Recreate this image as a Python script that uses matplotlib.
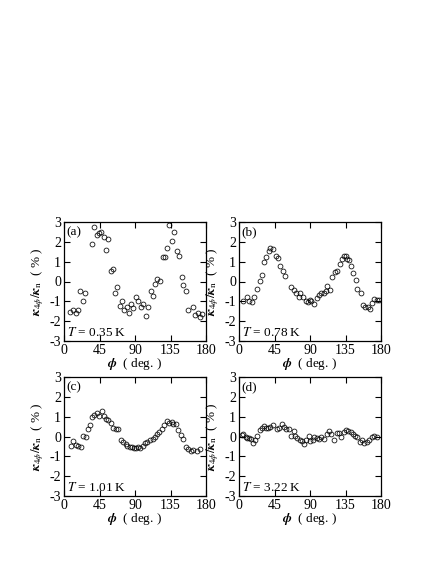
import matplotlib
matplotlib.use("Agg")
import matplotlib.pyplot as plt

plt.rcParams['font.family'] = ['Liberation Serif', 'DejaVu Serif']
plt.rcParams['mathtext.fontset'] = 'stix'
plt.rcParams['axes.unicode_minus'] = False

# Panel (a) T = 0.35 K
phi_a = [7.6, 11.8, 14.8, 18.2, 20.3, 23.7, 26.6, 35.1, 38.0, 41.4, 44.4, 47.3, 50.7, 53.2, 55.8,
         59.2, 62.5, 65.1, 67.6, 71.0, 74.0, 76.5, 79.4, 82.4, 84.9, 87.9, 91.3, 94.2, 97.2, 100.6,
         103.9, 106.9, 109.9, 113.2, 115.4, 118.3, 121.7, 125.9, 128.0, 131.0, 133.5, 136.9, 139.4,
         142.8, 145.8, 149.2, 151.3, 154.6, 157.6, 163.1, 166.1, 169.4, 172.4, 174.9]
k_a = [-1.55, -1.44, -1.60, -1.44, -0.46, -0.97, -0.60, 1.87, 2.76, 2.34, 2.43, 2.51, 2.26, 1.59, 2.13,
       0.53, 0.63, -0.60, -0.26, -1.22, -0.97, -1.44, -1.27, -1.57, -1.13, -1.35, -0.80, -0.97, -1.27, -1.15,
       -1.74, -1.30, -0.46, -0.73, -0.13, 0.14, 0.04, 1.25, 1.25, 1.67, 2.85, 2.06, 2.48,
       1.55, 1.29, 0.21, -0.18, -0.48, -1.44, -1.27, -1.69, -1.57, -1.77, -1.65]

# Panel (b) T = 0.78 K
phi_b = [5.5, 9.8, 12.8, 16.2, 19.1, 22.6, 26.0, 28.9, 31.1, 34.0, 37.4, 39.6, 42.6, 46.8, 49.8,
         52.3, 55.7, 58.7, 66.4, 69.4, 72.3, 75.7, 77.9, 80.9, 84.3, 87.2, 89.8, 91.9, 94.9, 98.3,
         101.3, 104.3, 107.7, 109.8, 112.0, 114.9, 118.3, 121.7, 124.6, 128.0, 131.0, 133.1, 135.3,
         137.4, 139.6, 141.7, 145.1, 148.1, 150.2, 154.5, 156.6, 159.6, 163.0, 166.0, 168.5, 171.5,
         174.5, 177.0]
k_b = [-0.97, -0.80, -0.97, -1.05, -0.80, -0.38, 0.03, 0.33, 0.97, 1.25, 1.55, 1.67, 1.64, 1.29, 1.21,
       0.78, 0.53, 0.29, -0.26, -0.43, -0.60, -0.80, -0.60, -0.80, -0.97, -1.05, -0.93, -0.97, -1.15, -0.85,
       -0.68, -0.56, -0.60, -0.46, -0.21, -0.43, 0.24, 0.50, 0.53, 0.88, 1.13, 1.29, 1.30,
       1.13, 1.08, 0.78, 0.45, 0.08, -0.40, -0.56, -1.18, -1.30, -1.30, -1.39, -1.07, -0.90,
       -0.93, -0.93]

# Panel (c) T = 1.01 K
phi_c = [8.5, 11.8, 14.8, 18.2, 21.1, 24.5, 27.5, 30.0, 32.9, 35.1, 38.0, 41.4, 44.8, 47.7, 50.7,
         53.2, 56.2, 59.2, 62.5, 65.9, 68.9, 71.8, 75.2, 78.2, 80.3, 83.7, 85.8, 88.7, 91.3, 94.2,
         96.3, 99.7, 102.7, 105.6, 109.0, 112.4, 115.4, 118.3, 120.8, 123.8, 126.8, 130.1, 133.1,
         136.5, 138.6, 142.0, 145.0, 147.9, 151.3, 154.6, 157.6, 160.6, 163.9, 168.2, 172.4]
k_c = [-0.46, -0.24, -0.42, -0.46, -0.51, 0.05, 0.00, 0.36, 0.56, 0.98, 1.10, 1.19, 1.03, 1.27, 1.02,
       0.86, 0.81, 0.68, 0.44, 0.36, 0.36, -0.20, -0.29, -0.37, -0.46, -0.51, -0.54, -0.58, -0.58, -0.54,
       -0.58, -0.46, -0.34, -0.29, -0.20, -0.12, 0.00, 0.14, 0.22, 0.39, 0.56, 0.78, 0.68,
       0.73, 0.61, 0.64, 0.31, 0.10, -0.12, -0.54, -0.63, -0.71, -0.68, -0.71, -0.63]

# Panel (d) T = 3.22 K
phi_d = [3.4, 5.5, 8.5, 10.6, 13.2, 15.3, 18.3, 20.4, 23.4, 26.0, 28.9, 31.1, 34.0, 36.6, 39.6,
         43.0, 48.1, 51.1, 54.5, 57.4, 60.0, 63.0, 66.4, 69.4, 71.5, 73.6, 77.0, 80.0, 83.0, 85.5,
         88.5, 90.6, 93.6, 95.7, 98.3, 101.3, 103.4, 107.7, 111.1, 114.0, 117.0, 120.4, 123.8,
         126.8, 129.8, 133.1, 136.2, 138.7, 141.7, 144.7, 147.2, 150.2, 153.2, 155.7, 158.7,
         161.7, 165.1, 168.5, 171.5, 174.5]
k_d = [0.08, 0.14, 0.00, -0.07, -0.07, -0.12, -0.34, -0.17, 0.05, 0.31, 0.42, 0.51, 0.44, 0.44, 0.47,
       0.56, 0.36, 0.44, 0.61, 0.47, 0.36, 0.36, 0.05, 0.27, 0.05, -0.07, -0.17, -0.24, -0.37, -0.17,
       0.05, -0.24, -0.17, 0.00, -0.07, -0.12, -0.03, -0.12, 0.14, 0.27, 0.14, -0.17, 0.17,
       0.17, 0.00, 0.22, 0.34, 0.27, 0.22, 0.14, 0.05, 0.00, -0.29, -0.20, -0.34,
       -0.29, -0.17, 0.00, 0.05, 0.00]

panel_labels = ['(a)', '(b)', '(c)', '(d)']
temps = ['0.35', '0.78', '1.01', '3.22']
xticks = [0, 45, 90, 135, 180]
yticks = [-3, -2, -1, 0, 1, 2, 3]

W, H = 436, 564
fig = plt.figure(figsize=(W / 100, H / 100), dpi=100)

boxes = [(64, 222), (239, 222), (64, 377), (239, 377)]
bw, bh = 142, 119
datasets = [(phi_a, k_a), (phi_b, k_b), (phi_c, k_c), (phi_d, k_d)]

for i, ((x0, y0), (px, py)) in enumerate(zip(boxes, datasets)):
    ax = fig.add_axes([x0 / W, 1 - (y0 + bh) / H, bw / W, bh / H])
    ax.plot(px, py, 'o', mfc='none', mec='black', mew=0.55, ms=3.5, ls='none')
    ax.set_xlim(0, 180)
    ax.set_ylim(-3, 3)
    ax.set_xticks(xticks)
    ax.set_yticks(yticks)
    ax.tick_params(direction='in', top=True, right=True, length=4, width=0.8,
                   labelsize=10, pad=2)
    for s in ax.spines.values():
        s.set_linewidth(0.9)
    ax.set_xlabel(r'$\boldsymbol{\phi}$  ( deg. )', fontsize=9.5)
    ax.xaxis.set_label_coords(0.5, -0.125)
    ax.set_ylabel(r'$\boldsymbol{\kappa}_{4\phi}/\boldsymbol{\kappa}_{\rm n}$  ( % )', fontsize=9.5)
    ax.yaxis.set_label_coords(-0.125, 0.5)
    ax.text(0.02, 0.965, panel_labels[i], transform=ax.transAxes, ha='left', va='top', fontsize=9.5)
    ax.text(0.02, 0.045, r'$T$ = ' + temps[i] + ' K', transform=ax.transAxes,
            ha='left', va='baseline', fontsize=9.5)

fig.savefig('out.png', dpi=100)
